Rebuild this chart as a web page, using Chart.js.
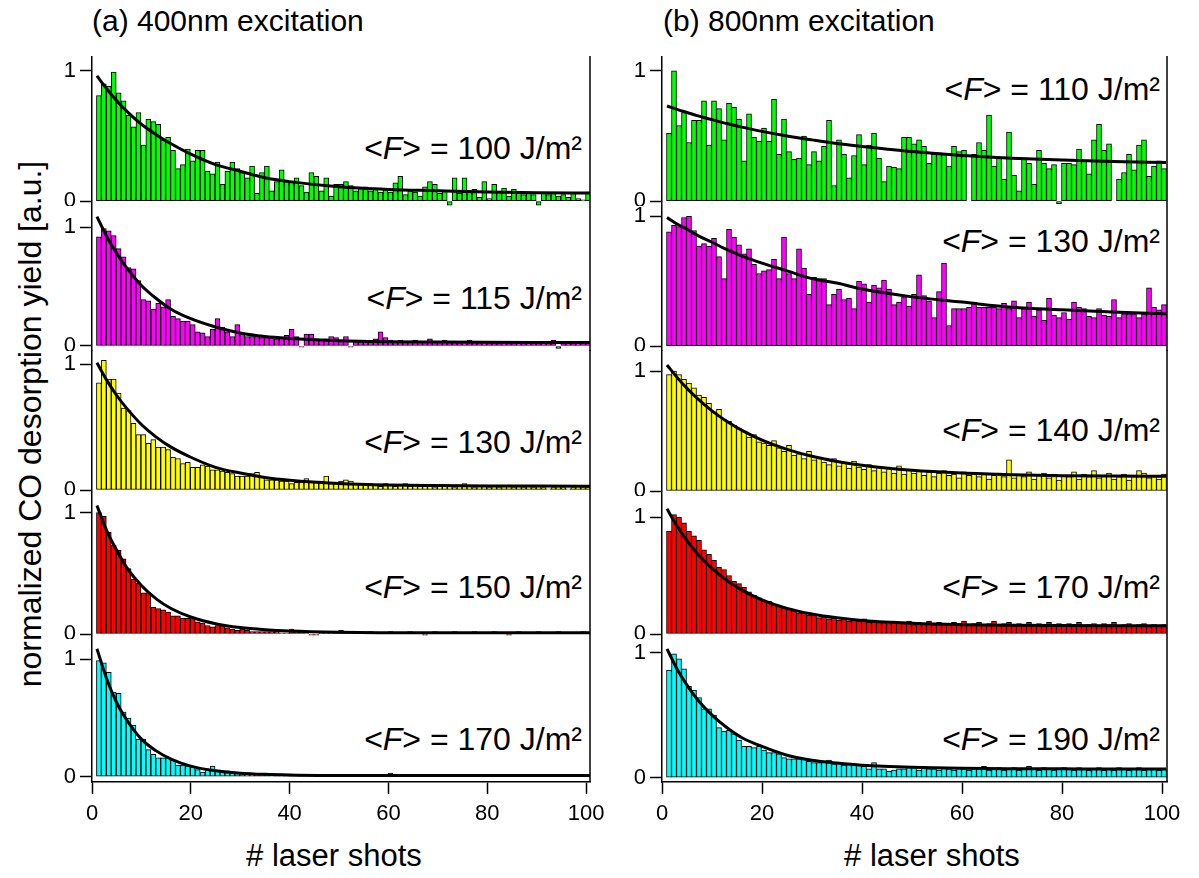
<!DOCTYPE html>
<html><head><meta charset="utf-8">
<script src="https://cdn.jsdelivr.net/npm/chart.js@4.4.1/dist/chart.umd.min.js"></script>
<style>
html,body{margin:0;padding:0;background:#fff;width:1199px;height:878px;overflow:hidden;position:relative;font-family:"Liberation Sans",Arial,sans-serif;color:#000}
canvas{position:absolute}
.t{position:absolute;white-space:nowrap;line-height:1}
.fl{font-size:32px;transform:translate(-100%,-50%)}
.xt{font-size:31px;transform:translate(-50%,-50%)}
</style></head><body>
<div class="t" style="left:92px;top:6px;font-size:30px">(a) 400nm excitation</div>
<div class="t" style="left:663px;top:6px;font-size:30px">(b) 800nm excitation</div>
<div class="t" style="left:30px;top:424px;font-size:32px;transform:translate(-50%,-50%) rotate(-90deg)">normalized CO desorption yield [a.u.]</div>
<div class="t xt" style="left:334px;top:855px"># laser shots</div>
<div class="t xt" style="left:932px;top:855px"># laser shots</div>
<div class="t fl" style="left:582px;top:148px">&lt;<i>F</i>&gt; = 100 J/m²</div>
<div class="t fl" style="left:582px;top:298px">&lt;<i>F</i>&gt; = 115 J/m²</div>
<div class="t fl" style="left:582px;top:442px">&lt;<i>F</i>&gt; = 130 J/m²</div>
<div class="t fl" style="left:582px;top:587px">&lt;<i>F</i>&gt; = 150 J/m²</div>
<div class="t fl" style="left:582px;top:739px">&lt;<i>F</i>&gt; = 170 J/m²</div>
<div class="t fl" style="left:1160px;top:89px">&lt;<i>F</i>&gt; = 110 J/m²</div>
<div class="t fl" style="left:1160px;top:241px">&lt;<i>F</i>&gt; = 130 J/m²</div>
<div class="t fl" style="left:1160px;top:430px">&lt;<i>F</i>&gt; = 140 J/m²</div>
<div class="t fl" style="left:1160px;top:587px">&lt;<i>F</i>&gt; = 170 J/m²</div>
<div class="t fl" style="left:1160px;top:739px">&lt;<i>F</i>&gt; = 190 J/m²</div>
<script>
// ---------- data ----------
const SHOTS = [1,2,3,4,5,6,7,8,9,10,11,12,13,14,15,16,17,18,19,20,21,22,23,24,25,26,27,28,29,30,31,32,33,34,35,36,37,38,39,40,41,42,43,44,45,46,47,48,49,50,51,52,53,54,55,56,57,58,59,60,61,62,63,64,65,66,67,68,69,70,71,72,73,74,75,76,77,78,79,80,81,82,83,84,85,86,87,88,89,90,91,92,93,94,95,96,97,98,99,100];
const X_TICKS = [0,20,40,60,80,100];
const Y_TICKS = [0,1];
const FIT_X = [1,3,5,7,10,13,16,20,25,30,35,40,50,60,70,80,90,100.8];

// (a) 400 nm excitation
const A100 = [0.81,0.90,0.88,0.99,0.83,0.77,0.66,0.57,0.68,0.43,
0.63,0.61,0.59,0.47,0.49,0.39,0.25,0.28,0.40,0.31,
0.39,0.39,0.23,0.21,0.30,0.13,0.23,0.30,0.25,0.22,
0.18,0.27,0.06,0.22,0.27,0.08,0.15,0.24,0.15,0.15,
0.18,0.12,0.07,0.22,0.19,0.08,0.18,0.04,0.13,0.13,
0.15,0.12,0.08,0.10,0.11,0.08,0.10,0.07,0.09,0.07,
0.14,0.19,0.05,0.08,0.07,0.04,0.11,0.15,0.13,0.06,
0.08,-0.03,0.18,0.06,0.18,0.08,0.09,0.03,0.15,0.02,
0.13,0.07,0.10,0.04,0.09,0.06,0.05,0.07,0.05,-0.03,
0.06,0.05,0.06,0.04,0.05,0.03,0.06,0.02,0.01,0.07];
const A115 = [0.92,0.99,0.97,0.93,0.82,0.75,0.66,0.65,0.55,0.39,
0.38,0.31,0.36,0.33,0.39,0.25,0.23,0.21,0.21,0.18,
0.12,0.11,0.08,0.14,0.23,0.16,0.12,0.08,0.18,0.10,
0.08,0.08,0.08,0.07,0.07,0.07,0.06,0.07,0.09,0.14,
0.08,-0.01,0.10,0.10,0.06,0.05,0.06,0.08,0.07,0.05,
0.08,-0.01,0.05,0.05,0.04,0.05,0.06,0.12,0.07,0.05,
0.04,0.05,0.03,0.04,0.05,0.03,0.04,0.06,0.04,0.03,
0.05,0.04,0.03,0.04,0.02,0.05,0.03,0.04,0.02,0.03,
0.04,0.03,0.02,0.03,0.04,0.02,0.03,0.02,0.04,0.03,
0.02,0.03,0.05,-0.02,0.03,0.02,0.04,0.02,0.03,0.03];
const A130 = [0.85,1.03,0.88,0.88,0.77,0.65,0.63,0.53,0.44,0.44,
0.37,0.40,0.34,0.34,0.32,0.26,0.25,0.21,0.22,0.18,
0.18,0.20,0.19,0.16,0.16,0.15,0.14,0.13,0.11,0.11,
0.11,0.13,0.14,0.10,0.08,0.08,0.08,0.07,0.07,0.05,
0.06,0.06,0.09,0.06,0.06,0.07,0.11,0.05,0.05,0.07,
0.08,0.07,0.05,0.05,0.04,0.05,0.04,0.03,0.05,0.04,
0.03,0.04,0.05,0.03,0.04,0.03,0.03,0.04,0.02,0.03,
0.04,0.03,0.02,0.03,0.05,0.03,0.02,0.03,0.04,0.02,
0.03,0.02,0.03,0.04,0.02,0.03,0.02,0.03,0.02,0.03,
0.02,0.01,0.02,0.03,0.02,0.01,0.02,0.03,0.02,0.02];
const A150 = [1.00,0.97,0.84,0.73,0.69,0.62,0.54,0.45,0.42,0.34,
0.34,0.22,0.21,0.20,0.18,0.15,0.15,0.13,0.13,0.14,
0.10,0.09,0.07,0.06,0.07,0.07,0.05,0.04,0.03,0.04,
0.03,0.02,0.02,0.02,0.02,0.02,0.02,0.01,0.01,0.04,
0.02,0.02,0.01,-0.01,-0.01,0.01,0.01,0.01,0.02,0.03,
0.02,0.01,0.01,0.01,0.00,0.02,0.01,0.00,0.01,0.02,
0.01,0.00,0.01,0.02,0.00,0.01,-0.01,0.01,0.02,0.01,
0.00,0.01,0.02,0.01,0.00,0.01,0.02,0.00,0.01,0.01,
0.02,0.00,0.01,-0.01,0.01,0.02,0.01,0.00,0.01,0.02,
0.01,0.00,0.01,0.02,0.01,0.00,0.01,0.01,0.02,0.01];
const A170 = [0.99,0.97,0.89,0.72,0.71,0.55,0.50,0.44,0.32,0.32,
0.23,0.19,0.16,0.16,0.16,0.14,0.10,0.10,0.09,0.09,
0.06,0.04,0.06,0.09,0.05,0.05,0.05,0.03,0.03,0.03,
0.02,0.02,0.02,0.02,0.02,0.01,0.02,0.01,0.01,0.02,
0.01,0.02,0.01,0.01,0.02,0.01,0.01,0.02,0.01,0.01,
0.02,0.01,0.01,0.00,0.01,0.01,0.02,0.01,0.01,0.03,
0.01,0.01,0.00,0.01,0.02,0.01,0.00,0.01,0.01,0.00,
0.01,0.01,0.00,0.01,0.01,0.02,0.01,0.02,0.00,0.01,
0.01,0.01,0.00,0.01,0.01,0.00,0.01,0.01,0.01,0.01,
0.00,0.01,0.01,0.00,0.01,0.01,0.00,0.01,0.01,0.00];

// (b) 800 nm excitation
const B110 = [0.52,1.00,0.58,0.68,0.45,0.62,0.62,0.77,0.43,0.77,
0.71,0.47,0.75,0.72,0.63,0.31,0.67,0.49,0.46,0.56,
0.46,0.78,0.36,0.63,0.38,0.32,0.33,0.50,0.28,0.38,
0.31,0.42,0.62,0.12,0.47,0.36,0.18,0.35,0.51,0.28,
0.43,0.52,0.33,0.15,0.27,0.26,0.25,0.49,0.49,0.44,
0.47,0.42,0.29,0.36,0.37,0.36,0.27,0.42,0.38,0.39,
0.00,0.36,0.45,0.39,0.66,0.27,0.33,0.17,0.53,0.20,
0.08,0.33,0.29,0.13,0.39,0.29,0.25,0.28,-0.02,0.29,
0.29,0.28,0.40,0.31,0.21,0.47,0.59,0.39,0.44,0.00,
0.17,0.22,0.36,0.24,0.43,0.47,0.19,0.27,0.31,0.25];
const B130 = [0.88,0.93,0.92,0.99,1.00,0.89,0.77,0.79,0.77,0.83,
0.69,0.52,0.90,0.84,0.78,0.71,0.75,0.63,0.56,0.58,
0.59,0.67,0.52,0.84,0.56,0.52,0.75,0.60,0.40,0.53,
0.52,0.52,0.32,0.40,0.44,0.36,0.37,0.29,0.50,0.48,
0.34,0.47,0.45,0.51,0.44,0.32,0.34,0.38,0.31,0.40,
0.55,0.39,0.35,0.22,0.42,0.64,0.16,0.29,0.29,0.29,
0.30,0.34,0.30,0.30,0.30,0.30,0.29,0.33,0.29,0.35,
0.22,0.29,0.34,0.23,0.28,0.20,0.37,0.24,0.22,0.26,
0.21,0.34,0.30,0.29,0.23,0.22,0.29,0.24,0.23,0.36,
0.22,0.25,0.25,0.25,0.22,0.25,0.45,0.30,0.28,0.32];
const B140 = [0.97,1.00,0.97,0.93,0.90,0.86,0.80,0.78,0.73,0.66,
0.68,0.60,0.58,0.55,0.52,0.50,0.45,0.47,0.41,0.40,
0.38,0.42,0.36,0.33,0.38,0.30,0.31,0.27,0.33,0.26,
0.28,0.24,0.22,0.27,0.21,0.23,0.19,0.25,0.20,0.18,
0.22,0.17,0.20,0.16,0.19,0.15,0.21,0.14,0.18,0.15,
0.17,0.13,0.16,0.12,0.15,0.17,0.13,0.14,0.11,0.16,
0.13,0.15,0.12,0.14,0.10,0.13,0.15,0.12,0.26,0.11,
0.14,0.12,0.16,0.10,0.13,0.15,0.11,0.14,0.09,0.13,
0.12,0.16,0.10,0.14,0.12,0.17,0.11,0.13,0.15,0.10,
0.12,0.14,0.09,0.13,0.17,0.15,0.11,0.13,0.10,0.14];
const B170 = [0.88,1.02,1.00,0.95,0.88,0.84,0.80,0.72,0.68,0.63,
0.57,0.55,0.50,0.45,0.43,0.40,0.36,0.33,0.31,0.29,
0.28,0.25,0.24,0.22,0.21,0.20,0.18,0.18,0.16,0.17,
0.14,0.15,0.13,0.14,0.12,0.13,0.11,0.12,0.11,0.13,
0.10,0.12,0.10,0.11,0.09,0.11,0.10,0.09,0.11,0.08,
0.10,0.09,0.11,0.08,0.10,0.09,0.08,0.10,0.09,0.11,
0.08,0.09,0.10,0.08,0.09,0.11,0.08,0.09,0.10,0.07,
0.09,0.08,0.10,0.08,0.09,0.07,0.10,0.08,0.09,0.07,
0.09,0.08,0.10,0.07,0.08,0.09,0.07,0.09,0.08,0.10,
0.07,0.08,0.09,0.07,0.08,0.09,0.07,0.08,0.07,0.08];
const B190 = [0.86,0.99,0.95,0.87,0.73,0.70,0.64,0.55,0.55,0.50,
0.40,0.37,0.38,0.35,0.30,0.25,0.25,0.24,0.25,0.22,
0.20,0.20,0.19,0.16,0.15,0.15,0.15,0.15,0.13,0.12,
0.12,0.13,0.14,0.11,0.12,0.10,0.11,0.11,0.10,0.09,
0.07,0.12,0.07,0.07,0.05,0.06,0.07,0.07,0.09,0.09,
0.06,0.09,0.07,0.07,0.06,0.08,0.07,0.06,0.08,0.07,
0.06,0.08,0.07,0.09,0.06,0.07,0.08,0.06,0.07,0.08,
0.06,0.07,0.09,0.07,0.06,0.08,0.07,0.06,0.07,0.08,
0.07,0.06,0.08,0.07,0.06,0.07,0.08,0.06,0.07,0.06,
0.08,0.07,0.06,0.07,0.08,0.06,0.07,0.07,0.06,0.07];

// fitted curves, read at FIT_X
const FIT_A100 = [0.96,0.86,0.77,0.69,0.59,0.51,0.44,0.36,0.28,0.23,0.18,0.15,0.11,0.09,0.08,0.07,0.065,0.063];
const FIT_A115 = [1.09,0.92,0.78,0.66,0.51,0.40,0.31,0.23,0.16,0.11,0.08,0.064,0.044,0.036,0.033,0.031,0.03,0.03];
const FIT_A130 = [1.01,0.87,0.75,0.65,0.52,0.42,0.34,0.26,0.18,0.135,0.10,0.078,0.052,0.04,0.035,0.032,0.031,0.03];
const FIT_A150 = [1.06,0.85,0.69,0.55,0.40,0.29,0.21,0.14,0.085,0.053,0.035,0.024,0.014,0.011,0.01,0.01,0.01,0.01];
const FIT_A170 = [1.09,0.83,0.63,0.485,0.32,0.22,0.15,0.09,0.05,0.03,0.02,0.015,0.01,0.01,0.01,0.01,0.01,0.01];
const FIT_B110 = [0.73,0.704,0.68,0.656,0.625,0.595,0.568,0.535,0.50,0.47,0.442,0.42,0.38,0.35,0.33,0.316,0.305,0.296];
const FIT_B130 = [0.99,0.94,0.90,0.855,0.80,0.743,0.694,0.64,0.58,0.52,0.486,0.44,0.38,0.34,0.30,0.28,0.264,0.25];
const FIT_B140 = [1.05,0.947,0.855,0.774,0.668,0.579,0.505,0.424,0.347,0.289,0.246,0.214,0.172,0.149,0.136,0.128,0.124,0.122];
const FIT_B170 = [1.07,0.923,0.798,0.691,0.56,0.456,0.375,0.291,0.219,0.171,0.138,0.115,0.091,0.079,0.074,0.072,0.071,0.07];
const FIT_B190 = [1.03,0.87,0.74,0.63,0.50,0.40,0.32,0.25,0.18,0.14,0.117,0.10,0.083,0.075,0.072,0.071,0.07,0.07];

// ---------- drawing ----------
const FONT = '"Liberation Sans", Arial, sans-serif';
const LW = 50, RW = 26, XH = 52;
const BAR_SHIFT = 0.4;

const framePlugin = {
  id: 'frame',
  afterDatasetsDraw(chart) {
    const {ctx, chartArea: a} = chart;
    ctx.save();
    ctx.strokeStyle = '#000'; ctx.lineWidth = 1.5;
    ctx.beginPath(); ctx.moveTo(a.right, a.top); ctx.lineTo(a.right, a.bottom); ctx.stroke();
    ctx.restore();
  }
};

function panel(p) {
  const unit = p.zero - p.one;
  const ymin = -(p.bottom - p.zero) / unit;
  const ymax = 1 + (p.one - p.top) / unit;
  const plotW = p.right - p.axis;
  const w = LW + plotW + RW;
  const h = (p.bottom - p.top) + (p.showX ? XH : 0);
  const cv = document.createElement('canvas');
  cv.width = w; cv.height = Math.round(h);
  cv.style.width = w + 'px'; cv.style.height = Math.round(h) + 'px';
  cv.style.left = (p.axis - LW) + 'px'; cv.style.top = p.top + 'px';
  document.body.appendChild(cv);
  const chart = new Chart(cv, {
    type: 'bar',
    data: {
      datasets: [
        { type: 'line', data: FIT_X.map((x, i) => ({x: x, y: p.fit[i]})), borderColor: '#000', borderWidth: 3,
          pointRadius: 0, cubicInterpolationMode: 'monotone', fill: false, order: 0 },
        { type: 'bar', data: SHOTS.map((s, i) => ({x: s + BAR_SHIFT, y: p.bars[i]})), backgroundColor: p.colour,
          borderColor: '#000', borderWidth: 1, borderSkipped: false, barPercentage: 1, categoryPercentage: 1,
          grouped: false, order: 1 }
      ]
    },
    options: {
      responsive: false, animation: false, events: [],
      layout: { padding: { left: 0, right: RW, top: 0, bottom: 0 } },
      plugins: { legend: { display: false }, tooltip: { enabled: false } },
      scales: {
        x: {
          type: 'linear', min: 0, max: p.xmax, offset: false, display: p.showX,
          afterBuildTicks: s => { s.ticks = X_TICKS.map(v => ({value: v})); },
          afterFit: s => { s.height = p.showX ? XH : 0; s.paddingLeft = 0; s.paddingRight = 0; },
          grid: { offset: false, drawOnChartArea: false, drawTicks: true, tickLength: 12, tickWidth: 1.5, tickColor: '#000' },
          border: { display: true, color: '#000', width: 1.5 },
          ticks: { font: { family: FONT, size: 22 }, color: '#000', padding: 7, maxRotation: 0, autoSkip: false }
        },
        y: {
          type: 'linear', min: ymin, max: ymax,
          afterBuildTicks: s => { s.ticks = Y_TICKS.map(v => ({value: v})); },
          afterFit: s => { s.width = LW; s.paddingTop = 0; s.paddingBottom = 0; },
          grid: { drawOnChartArea: false, drawTicks: true, tickLength: 12, tickWidth: 1.5, tickColor: '#000' },
          border: { display: true, color: '#000', width: 1.5 },
          ticks: { font: { family: FONT, size: 22 }, color: '#000', padding: 4 }
        }
      }
    },
    plugins: [framePlugin]
  });
  const a = chart.chartArea;
  cv.style.left = (p.axis - a.left) + 'px';
  cv.style.top = (p.top - a.top) + 'px';
}

const LEFT = { axis: 92, right: 590, xmax: 100.8 };
const RIGHT = { axis: 662, right: 1167, xmax: 101 };

const PANELS = [
  Object.assign({}, LEFT, { top: 56, bottom: 205.5, zero: 200.7, one: 70.7, bars: A100, fit: FIT_A100, colour: '#00ff00' }),
  Object.assign({}, LEFT, { top: 205.5, bottom: 350, zero: 345, one: 226.7, bars: A115, fit: FIT_A115, colour: '#ff00ff' }),
  Object.assign({}, LEFT, { top: 350, bottom: 495, zero: 490, one: 364, bars: A130, fit: FIT_A130, colour: '#ffff00' }),
  Object.assign({}, LEFT, { top: 495, bottom: 639, zero: 634, one: 512.7, bars: A150, fit: FIT_A150, colour: '#ff0000' }),
  Object.assign({}, LEFT, { top: 639, bottom: 782, zero: 776.7, one: 659.3, bars: A170, fit: FIT_A170, colour: '#00ffff', showX: true }),
  Object.assign({}, RIGHT, { top: 56, bottom: 205.5, zero: 200.7, one: 70.7, bars: B110, fit: FIT_B110, colour: '#00ff00' }),
  Object.assign({}, RIGHT, { top: 205.5, bottom: 350, zero: 345.3, one: 215.7, bars: B130, fit: FIT_B130, colour: '#ff00ff' }),
  Object.assign({}, RIGHT, { top: 350, bottom: 496, zero: 491, one: 371, bars: B140, fit: FIT_B140, colour: '#ffff00' }),
  Object.assign({}, RIGHT, { top: 496, bottom: 639, zero: 634, one: 517, bars: B170, fit: FIT_B170, colour: '#ff0000' }),
  Object.assign({}, RIGHT, { top: 639, bottom: 782, zero: 777.7, one: 652.7, bars: B190, fit: FIT_B190, colour: '#00ffff', showX: true })
];
PANELS.forEach(p => panel(Object.assign({ showX: false }, p)));
</script>
</body></html>
